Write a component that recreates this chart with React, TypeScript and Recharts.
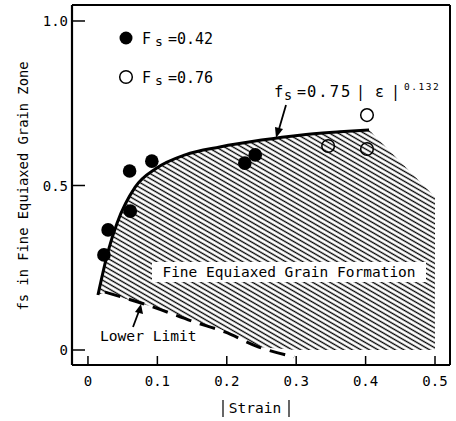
import React from 'react';
import { ComposedChart, Area, Line, Scatter, XAxis, YAxis, ReferenceLine } from 'recharts';

// Fs = 0.42 (filled) and Fs = 0.76 (open) measurements
const filledStrain = [0.023, 0.029, 0.061, 0.060, 0.092, 0.226, 0.241];
const filledFs = [0.289, 0.365, 0.422, 0.544, 0.574, 0.568, 0.593];
const openStrain = [0.346, 0.402, 0.402];
const openFs = [0.620, 0.611, 0.714];

// fitted curve fs = 0.75 |e|^0.132 as drawn
const curveStrain = [0.0144, 0.029, 0.042, 0.068, 0.099, 0.14, 0.19, 0.25, 0.305, 0.363, 0.405];
const curveFs = [0.167, 0.30, 0.386, 0.495, 0.553, 0.593, 0.617, 0.638, 0.653, 0.663, 0.669];

// lower limit (dashed)
const lowerStrain = [0.0245, 0.085, 0.158, 0.197, 0.246, 0.297];
const lowerFs = [0.176, 0.137, 0.082, 0.055, 0.009, -0.021];

// hatched region: fine equiaxed grain formation
const hatchStrain = [0.016, 0.029, 0.042, 0.068, 0.099, 0.14, 0.19, 0.25, 0.3, 0.363, 0.405, 0.5];
const hatchTop = [0.17, 0.30, 0.386, 0.495, 0.553, 0.593, 0.617, 0.638, 0.652, 0.663, 0.669, 0.465];
const hatchBottom = [0.17, 0.17, 0.163, 0.147, 0.128, 0.098, 0.064, 0.008, 0, 0, 0, 0];

const xTicks = [0, 0.1, 0.2, 0.3, 0.4, 0.5];
const yTicks = [0, 0.5, 1.0];
const xDomain = [-0.023, 0.5216];
const yDomain = [-0.0456, 1.0486];

const filledData = filledStrain.map((s, i) => ({ strain: s, fs: filledFs[i] }));
const openData = openStrain.map((s, i) => ({ strain: s, fs: openFs[i] }));
const curveData = curveStrain.map((s, i) => ({ strain: s, fs: curveFs[i] }));
const lowerData = lowerStrain.map((s, i) => ({ strain: s, fs: lowerFs[i] }));
const hatchData = hatchStrain.map((s, i) => ({ strain: s, band: [hatchBottom[i], hatchTop[i]] }));

const FONT = '"DejaVu Sans Mono", monospace';
const fmt = (v: number) => (v === 0 ? '0' : v.toFixed(1));

const YTick = (props: any) => {
  const { x, y, payload } = props;
  return (
    <g>
      <line x1={x + 4} x2={x + 17} y1={y} y2={y} stroke="#000" strokeWidth={1.5} />
      <text x={x} y={y} dy="0.36em" textAnchor="end" fontFamily={FONT} fontSize={14} fill="#000">
        {fmt(payload.value)}
      </text>
    </g>
  );
};

const XTick = (props: any) => {
  const { x, y, payload } = props;
  return (
    <g>
      <line x1={x} x2={x} y1={y - 11} y2={y - 20} stroke="#000" strokeWidth={1.5} />
      <text x={x} y={y} dy="0.72em" textAnchor="middle" fontFamily={FONT} fontSize={14} fill="#000">
        {fmt(payload.value)}
      </text>
    </g>
  );
};

// annotations drawn on top of the chart
const Overlay = () => (
  <svg
    width={456}
    height={421}
    style={{ position: 'absolute', left: 0, top: 0, pointerEvents: 'none' }}
  >
    <g fontFamily={FONT} fill="#000">
      {/* legend */}
      <circle cx={126} cy={38} r={6.5} fill="#000" />
      <text x={142} y={44} fontSize={15}>
        F<tspan x={155} dy={2} fontSize={13}>s</tspan>
        <tspan x={168} dy={-2}>=0.42</tspan>
      </text>
      <circle cx={126} cy={77} r={6.3} fill="none" stroke="#000" strokeWidth={1.5} />
      <text x={142} y={83} fontSize={15}>
        F<tspan x={155} dy={2} fontSize={13}>s</tspan>
        <tspan x={168} dy={-2}>=0.76</tspan>
      </text>

      {/* formula */}
      <text x={274} y={97} fontSize={15.5}>
        f<tspan x={284} dy={3} fontSize={13.5}>s</tspan>
        <tspan x={297} dy={-3} fontSize={15}>=</tspan>
        <tspan x={307} fontSize={15.5} letterSpacing={2}>0.75</tspan>
        <tspan x={356} fontSize={15}>|</tspan>
        <tspan x={375} fontSize={15}>ε</tspan>
        <tspan x={391} fontSize={15}>|</tspan>
        <tspan x={404} dy={-7} fontSize={9.5} letterSpacing={1.5}>0.132</tspan>
      </text>
      <line x1={286} y1={105} x2={279} y2={129} stroke="#000" strokeWidth={1.8} />
      <polygon points="276,138 275,127 283,129" fill="#000" />

      {/* region label */}
      <rect x={152} y={262} width={274} height={20} fill="#fff" />
      <text x={289} y={277} fontSize={14.5} textAnchor="middle">Fine Equiaxed Grain Formation</text>

      {/* lower limit label */}
      <text x={100} y={341} fontSize={14.6}>Lower Limit</text>
      <line x1={133} y1={327} x2={139} y2={311} stroke="#000" strokeWidth={1.8} />
      <polygon points="141,304 135,312 143,314" fill="#000" />

      {/* axis titles */}
      <text x={28} y={186} fontSize={13.8} textAnchor="middle" transform="rotate(-90 28 186)">
        fs in Fine Equiaxed Grain Zone
      </text>
      <line x1={223} x2={223} y1={400} y2={417} stroke="#000" strokeWidth={1.2} />
      <text x={255} y={413} fontSize={14.5} textAnchor="middle">Strain</text>
      <line x1={289} x2={289} y1={400} y2={417} stroke="#000" strokeWidth={1.2} />
    </g>
  </svg>
);

export default function App() {
  return (
    <div style={{ position: 'absolute', left: 0, top: 0, width: 456, height: 421, background: '#fff' }}>
      <ComposedChart width={456} height={421} margin={{ top: 5, right: 6, left: 12, bottom: 16 }}>
        <defs>
          <pattern id="hatch" width="4" height="4.3" patternUnits="userSpaceOnUse" patternTransform="rotate(30)">
            <line x1="0" y1="2.15" x2="4" y2="2.15" stroke="#000" strokeWidth={1.35} />
          </pattern>
        </defs>
        <XAxis
          type="number"
          dataKey="strain"
          domain={xDomain}
          ticks={xTicks}
          allowDataOverflow
          height={40}
          tickSize={0}
          tickMargin={11}
          tickLine={false}
          tick={<XTick />}
          axisLine={{ stroke: '#000', strokeWidth: 2.2 }}
        />
        <YAxis
          type="number"
          domain={yDomain}
          ticks={yTicks}
          allowDataOverflow
          width={60}
          tickSize={0}
          tickMargin={4}
          tickLine={false}
          tick={<YTick />}
          axisLine={{ stroke: '#000', strokeWidth: 2.2 }}
        />
        {/* frame: top and right edges */}
        <ReferenceLine y={yDomain[1]} stroke="#000" strokeWidth={2} ifOverflow="visible" />
        <ReferenceLine x={xDomain[1]} stroke="#000" strokeWidth={2} ifOverflow="visible" />
        <Area
          data={hatchData}
          dataKey="band"
          type="linear"
          stroke="none"
          fill="url(#hatch)"
          fillOpacity={1}
          isAnimationActive={false}
        />
        <Line
          data={lowerData}
          dataKey="fs"
          type="monotone"
          stroke="#000"
          strokeWidth={3}
          strokeDasharray="16 9"
          dot={false}
          isAnimationActive={false}
        />
        <Line
          data={curveData}
          dataKey="fs"
          type="monotone"
          stroke="#000"
          strokeWidth={3}
          dot={false}
          isAnimationActive={false}
        />
        <Scatter
          data={filledData}
          dataKey="fs"
          isAnimationActive={false}
          shape={(p: any) => <circle cx={p.cx} cy={p.cy} r={6.8} fill="#000" />}
        />
        <Scatter
          data={openData}
          dataKey="fs"
          isAnimationActive={false}
          shape={(p: any) => <circle cx={p.cx} cy={p.cy} r={6.3} fill="none" stroke="#000" strokeWidth={1.5} />}
        />
      </ComposedChart>
      <Overlay />
    </div>
  );
}
